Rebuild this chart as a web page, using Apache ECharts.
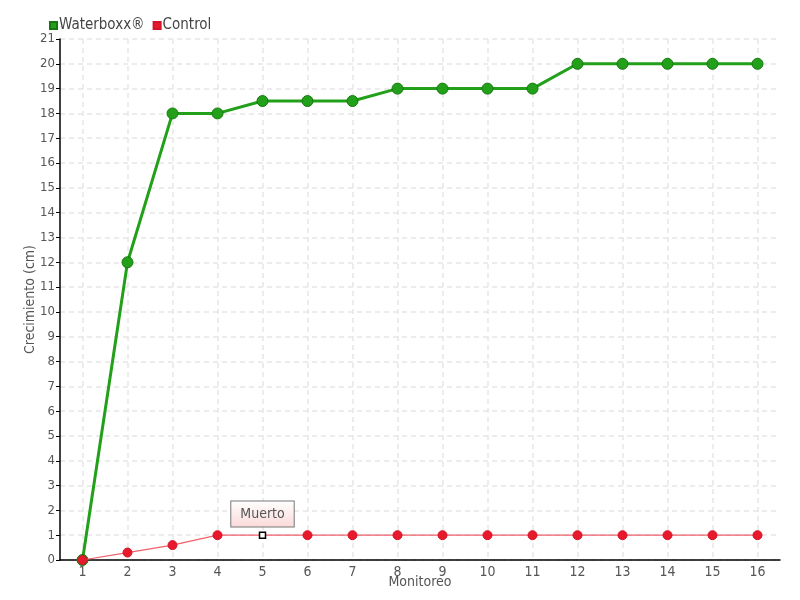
<!DOCTYPE html>
<html>
<head>
<meta charset="utf-8">
<script src="https://cdn.jsdelivr.net/npm/echarts@6/dist/echarts.min.js"></script>
<style>
  html, body { margin: 0; padding: 0; background: #fff; }
  #chart { width: 800px; height: 600px; }
</style>
</head>
<body>
<div id="chart"></div>
<script>
// datos
const monitoreos = ['1', '2', '3', '4', '5', '6', '7', '8', '9', '10', '11', '12', '13', '14', '15', '16']
const waterboxx = [0, 12, 18, 18, 18.5, 18.5, 18.5, 19, 19, 19, 19, 20, 20, 20, 20, 20]
const control = [0, 0.3, 0.6, 1, 1, 1, 1, 1, 1, 1, 1, 1, 1, 1, 1, 1]
const muertoIndex = 4

const font = '"Liberation Sans Narrow", "DejaVu Sans Condensed", sans-serif'

const chart = echarts.init(document.getElementById('chart'))

const controlData = control.map((v, i) => {
  if (i !== muertoIndex) return v
  return {
    value: v,
    symbol: 'rect',
    symbolSize: 6,
    itemStyle: { color: '#fff', borderColor: '#000', borderWidth: 1.5 },
    label: {
      show: true,
      position: 'top',
      distance: 5,
      formatter: 'Muerto',
      color: '#555',
      fontFamily: font,
      fontSize: 14,
      padding: [6, 9, 5, 9],
      borderColor: '#777',
      borderWidth: 1,
      backgroundColor: {
        type: 'linear', x: 0, y: 0, x2: 0, y2: 1,
        colorStops: [{ offset: 0, color: '#ffffff' }, { offset: 1, color: '#fbd9d9' }]
      }
    }
  }
})

const option = {
  animation: false,
  textStyle: { fontFamily: font },
  legend: {
    left: 44,
    top: 13,
    itemWidth: 7,
    itemHeight: 7,
    itemGap: 8,
    icon: 'rect',
    textStyle: { color: '#444', fontSize: 15, fontFamily: font, padding: [0, 0, 0, -3] },
    data: ['Waterboxx®', 'Control']
  },
  grid: {
    left: 60,
    right: 20,
    top: 39,
    bottom: 40,
    outerBoundsMode: 'none'
  },
  xAxis: {
    type: 'category',
    data: monitoreos,
    boundaryGap: true,
    name: 'Monitoreo',
    nameLocation: 'middle',
    nameGap: 15,
    nameMoveOverlap: false,
    nameTextStyle: { color: '#555', fontSize: 14, fontFamily: font },
    axisLine: { lineStyle: { color: '#000', width: 1.5 } },
    axisTick: { alignWithLabel: true, length: 5, lineStyle: { color: '#000' } },
    axisLabel: { color: '#555', fontSize: 14, margin: 5, fontFamily: font },
    splitLine: {
      show: true,
      alignWithLabel: true,
      lineStyle: { color: '#e6e6e6', type: [5, 4], width: 1.5 }
    }
  },
  yAxis: {
    type: 'value',
    min: 0,
    max: 21,
    interval: 1,
    name: 'Crecimiento (cm)',
    nameLocation: 'middle',
    nameGap: 23,
    nameMoveOverlap: false,
    nameTextStyle: { color: '#555', fontSize: 14, fontFamily: font },
    axisLine: { show: true, lineStyle: { color: '#000', width: 1.5 } },
    axisTick: { show: true, length: 4, lineStyle: { color: '#000' } },
    axisLabel: { color: '#555', fontSize: 13, margin: 5, fontFamily: font },
    splitLine: { lineStyle: { color: '#e6e6e6', type: [5, 4], width: 1.5 } }
  },
  series: [
    {
      name: 'Waterboxx®',
      type: 'line',
      data: waterboxx,
      symbol: 'circle',
      symbolSize: 11,
      z: 2,
      lineStyle: { color: '#22a01a', width: 3 },
      itemStyle: { color: '#22a01a', borderColor: '#17780f', borderWidth: 1 }
    },
    {
      name: 'Control',
      type: 'line',
      data: controlData,
      symbol: 'circle',
      symbolSize: 9,
      z: 3,
      lineStyle: { color: '#f0606b', width: 1.2 },
      itemStyle: { color: '#e8192c', borderColor: '#d01525', borderWidth: 1 }
    }
  ]
}

chart.setOption(option)
</script>
</body>
</html>
